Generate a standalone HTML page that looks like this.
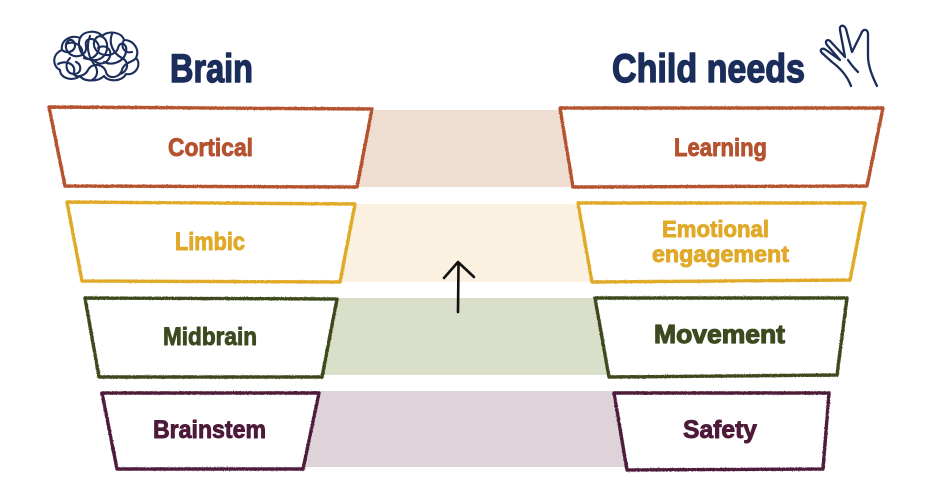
<!DOCTYPE html>
<html>
<head>
<meta charset="utf-8">
<style>
  html, body { margin:0; padding:0; background:#ffffff; }
  body { width:930px; height:487px; overflow:hidden; }
  svg { display:block; }
  text { font-family:"Liberation Sans", "DejaVu Sans", sans-serif; font-weight:bold; stroke-linejoin:round; }
</style>
</head>
<body>
<svg width="930" height="487" viewBox="0 0 930 487" xmlns="http://www.w3.org/2000/svg">
  <defs>
    <filter id="rough" x="-5%" y="-5%" width="110%" height="110%">
      <feTurbulence type="fractalNoise" baseFrequency="0.9" numOctaves="2" seed="3" result="n"/>
      <feDisplacementMap in="SourceGraphic" in2="n" scale="1.6" xChannelSelector="R" yChannelSelector="G"/>
    </filter>
  </defs>

  <!-- bands -->
  <rect x="340" y="110" width="250" height="77" fill="#f0ddd2"/>
  <rect x="330" y="204" width="270" height="78" fill="#faf1e1"/>
  <rect x="310" y="298" width="310" height="77" fill="#d9dfc8"/>
  <rect x="300" y="391" width="340" height="76" fill="#ddd3d9"/>

  <!-- boxes -->
  <g fill="#ffffff" stroke-width="3.4" stroke-linejoin="round" filter="url(#rough)">
    <polygon points="49,107 372,109 357,187 65,186" stroke="#b5522f"/>
    <polygon points="560,108 883,108 867,186 573,187" stroke="#b5522f"/>
    <polygon points="67,202 355,204 340,282 82,281" stroke="#e0a928"/>
    <polygon points="578,203 865,203 850,280 592,282" stroke="#e0a928"/>
    <polygon points="85,298 337,299 322,377 99,377" stroke="#3d4a1f"/>
    <polygon points="595,298 847,298 837,375 609,377" stroke="#3d4a1f"/>
    <polygon points="102,393 319,393 303,469 117,469" stroke="#4e1a3a"/>
    <polygon points="614,393 829,393 823,469 627,470" stroke="#4e1a3a"/>
  </g>

  <!-- arrow -->
  <g stroke="#111111" stroke-width="2.6" fill="none" stroke-linecap="round" stroke-linejoin="round">
    <path d="M458 312 L458.5 264"/>
    <path d="M444 278 L458 262 L474 277"/>
  </g>

  <!-- titles -->
  <text x="170" y="82" font-size="40" fill="#1b2d5b" stroke="#1b2d5b" stroke-width="1.4" textLength="83" lengthAdjust="spacingAndGlyphs">Brain</text>
  <text x="612" y="82" font-size="40" fill="#1b2d5b" stroke="#1b2d5b" stroke-width="1.4" textLength="193" lengthAdjust="spacingAndGlyphs">Child needs</text>

  <!-- labels -->
  <g text-anchor="middle" stroke-width="0.9">
    <text x="210.5" y="156" font-size="25" fill="#b5522f" stroke="#b5522f" textLength="85" lengthAdjust="spacingAndGlyphs">Cortical</text>
    <text x="720.5" y="156" font-size="25" fill="#b5522f" stroke="#b5522f" textLength="93" lengthAdjust="spacingAndGlyphs">Learning</text>
    <text x="210" y="250" font-size="25" fill="#e0a928" stroke="#e0a928" textLength="70" lengthAdjust="spacingAndGlyphs">Limbic</text>
    <text x="715.5" y="237" font-size="23" fill="#e0a928" stroke="#e0a928" textLength="107" lengthAdjust="spacingAndGlyphs">Emotional</text>
    <text x="720.5" y="262" font-size="23" fill="#e0a928" stroke="#e0a928" textLength="137" lengthAdjust="spacingAndGlyphs">engagement</text>
    <text x="210" y="345" font-size="25" fill="#3d4a1f" stroke="#3d4a1f" textLength="94" lengthAdjust="spacingAndGlyphs">Midbrain</text>
    <text x="719.5" y="343" font-size="26" fill="#3d4a1f" stroke="#3d4a1f" stroke-width="1.2" textLength="131" lengthAdjust="spacingAndGlyphs">Movement</text>
    <text x="209.5" y="438" font-size="25" fill="#4e1a3a" stroke="#4e1a3a" textLength="113" lengthAdjust="spacingAndGlyphs">Brainstem</text>
    <text x="720" y="438" font-size="25" fill="#4e1a3a" stroke="#4e1a3a" textLength="74" lengthAdjust="spacingAndGlyphs">Safety</text>
  </g>

  <!-- brain scribble icon -->
  <g stroke="#1b2d5b" stroke-width="2.1" fill="none" stroke-linecap="round" stroke-linejoin="round">
    <path d="M60 70 C52 66,52 54,62 50 C60 40,72 34,80 38 C84 30,98 30,102 36 C108 30,122 32,124 40 C134 40,140 50,136 58 C142 64,136 76,126 74 C122 82,108 82,104 76 C98 82,84 82,80 76 C72 82,60 78,60 70 Z"/>
    <path d="M62 50 C70 56,78 48,74 42 C70 36,62 44,68 52 C74 60,88 56,86 46 C84 38,94 36,98 44 C102 52,92 62,84 58"/>
    <path d="M80 38 C76 48,84 62,96 60 C108 58,110 44,104 38 C98 32,90 42,96 50 C102 58,116 56,118 48 C120 40,128 44,126 52 C124 62,112 66,104 62"/>
    <path d="M58 64 C66 60,76 64,74 72 C72 78,84 78,88 70 C92 62,104 64,106 72 C108 80,120 78,122 70 C124 62,134 62,136 58"/>
    <path d="M90 36 C86 46,88 56,94 64 C100 72,96 78,92 80"/>
    <path d="M112 34 C108 44,114 54,122 58 C130 62,128 72,120 74"/>
    <path d="M70 58 C64 64,66 74,74 74 C82 74,82 64,76 62"/>
    <path d="M98 48 C104 44,112 48,110 56 C108 64,98 66,94 60"/>
    <path d="M124 40 C120 46,124 54,132 52"/>
    <path d="M66 44 C74 40,84 46,82 54"/>
  </g>

  <!-- hand icon -->
  <g stroke="#1b2d5b" stroke-width="2.3" fill="none" stroke-linecap="round" stroke-linejoin="round">
    <path d="M851 86 C847 75,840 68,832 62 L822 53 C819 50,822 47,826 50 L840 60 L827 45 C824 41,828 38,831 42 L845 57 L840 30 C839 25,844 24,846 29 L852 52 L861 34 C863 28,868 29,868 34 L868 56 C868 66,872 76,877 86"/>
    <path d="M848 60 C852 66,856 70,858 72"/>
  </g>
</svg>
</body>
</html>
